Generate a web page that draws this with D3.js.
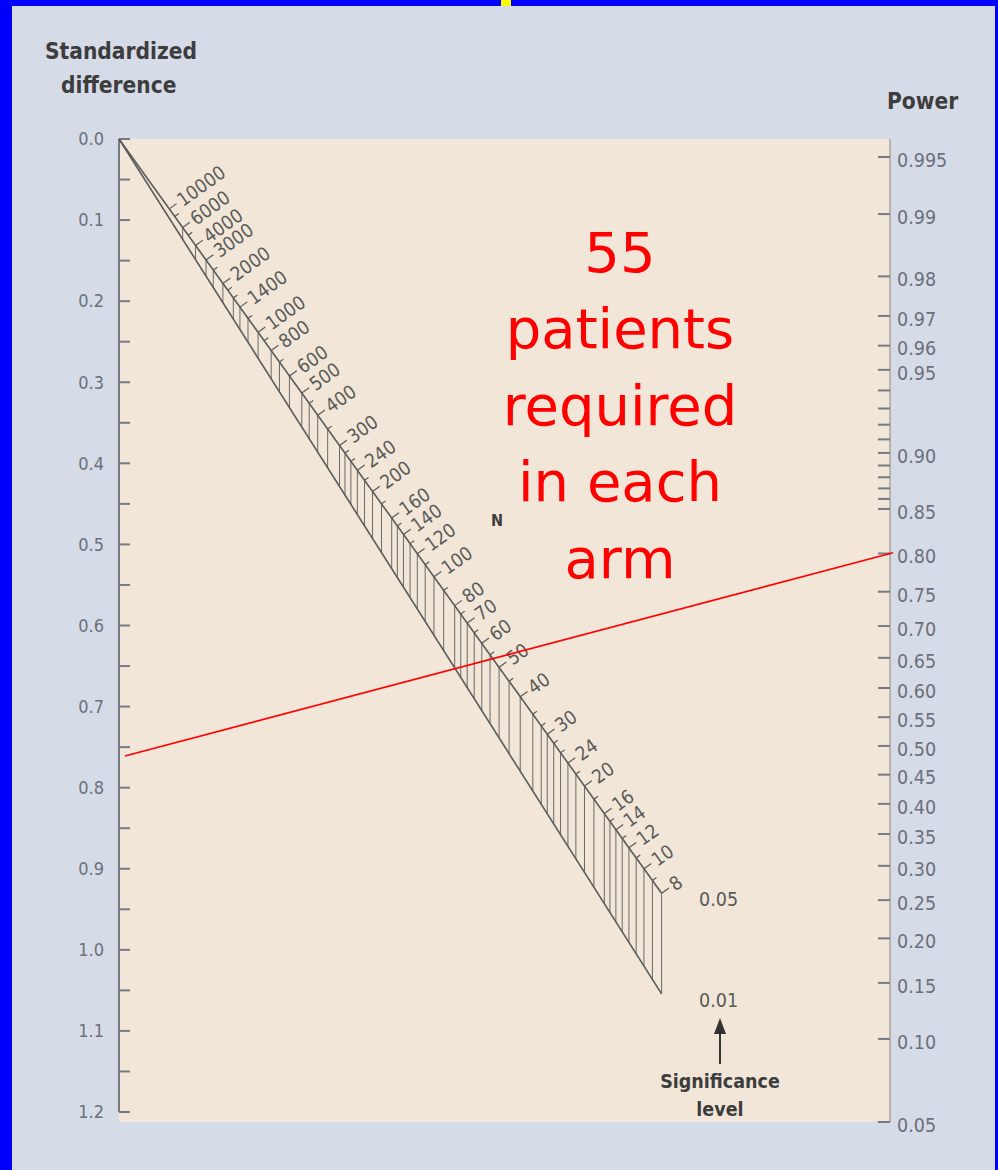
<!DOCTYPE html>
<html><head><meta charset="utf-8">
<script src="https://cdn.jsdelivr.net/npm/d3@7"></script>
<style>
html,body{margin:0;padding:0;background:#0000ff;}
svg{display:block;}
</style></head>
<body>
<svg id="chart" width="998" height="1170"></svg>
<script>
// ---------------- data ----------------
const diffTicks = [0.0,0.1,0.2,0.3,0.4,0.5,0.6,0.7,0.8,0.9,1.0,1.1,1.2];
const diffMinor = [0.05,0.15,0.25,0.35,0.45,0.55,0.65,0.75,0.85,0.95,1.05,1.15];
const powerTicks = [0.995,0.99,0.98,0.97,0.96,0.95,0.90,0.85,0.80,0.75,0.70,0.65,0.60,0.55,0.50,0.45,0.40,0.35,0.30,0.25,0.20,0.15,0.10,0.05];
const powerLabels = ["0.995","0.99","0.98","0.97","0.96","0.95","0.90","0.85","0.80","0.75","0.70","0.65","0.60","0.55","0.50","0.45","0.40","0.35","0.30","0.25","0.20","0.15","0.10","0.05"];
const powerMinor = [0.94,0.93,0.92,0.91,0.89,0.88,0.87,0.86];
const nLabels = [10000,6000,4000,3000,2000,1400,1000,800,600,500,400,300,240,200,160,140,120,100,80,70,60,50,40,30,24,20,16,14,12,10,8];
const nMinor = [8000,5000,2500,1800,1600,1200,900,700,450,350,280,260,220,180,150,130,110,90,75,65,55,45,35,32,28,26,22,18,15,13,11,9];
const nHatch = [8,9,10,11,12,13,14,15,16,18,20,22,24,26,28,30,32,35,40,45,50,55,60,65,70,75,80,90,100,110,120,130,140,150,160,180,200,220,240,260,280,300,350,400,450,500,600,700,800,1000,1200,1400,1600,2000,2500,3000,4000,6000];
const alphaLevels = [0.05, 0.01];
const alphaLabels = ["0.05","0.01"];
const redLine = {diff: 0.763, power: 0.80};
const annotation = ["55","patients","required","in each","arm"];

// ---------------- helpers ----------------
function probit(p){ // Acklam inverse normal
  const a=[-3.969683028665376e+01,2.209460984245205e+02,-2.759285104469687e+02,1.383577518672690e+02,-3.066479806614716e+01,2.506628277459239e+00];
  const b=[-5.447609879822406e+01,1.615858368580409e+02,-1.556989798598866e+02,6.680131188771972e+01,-1.328068155288572e+01];
  const c=[-7.784894002430293e-03,-3.223964580411365e-01,-2.400758277161838e+00,-2.549732539343734e+00,4.374664141464968e+00,2.938163982698783e+00];
  const d=[7.784695709041462e-03,3.224671290700398e-01,2.445134137142996e+00,3.754408661907416e+00];
  const pl=0.02425, ph=1-pl; let q,r;
  if(p<pl){q=Math.sqrt(-2*Math.log(p));return (((((c[0]*q+c[1])*q+c[2])*q+c[3])*q+c[4])*q+c[5])/((((d[0]*q+d[1])*q+d[2])*q+d[3])*q+1);}
  if(p>ph){q=Math.sqrt(-2*Math.log(1-p));return -(((((c[0]*q+c[1])*q+c[2])*q+c[3])*q+c[4])*q+c[5])/((((d[0]*q+d[1])*q+d[2])*q+d[3])*q+1);}
  q=p-0.5;r=q*q;return (((((a[0]*r+a[1])*r+a[2])*r+a[3])*r+a[4])*r+a[5])*q/(((((b[0]*r+b[1])*r+b[2])*r+b[3])*r+b[4])*r+1);
}

const svg = d3.select("#chart");
const FONT = "'DejaVu Sans Condensed','DejaVu Sans',sans-serif";
const AX = "#777a84";

// background panel
svg.append("rect").attr("x",12).attr("y",6).attr("width",983).attr("height",1164).attr("fill","#d6dbe8");
svg.append("rect").attr("x",501).attr("y",0).attr("width",10).attr("height",6).attr("fill","#ffff00");

// scales
const xL = 119, xR = 890;
const yDiff = d3.scaleLinear().domain([0,1.2]).range([139,1112]);
const zScale = d3.scaleLinear().domain([probit(0.995), probit(0.05)]).range([157,1122]);
const yPow = p => zScale(probit(p));
const xT = d3.scaleLinear().domain([0,1]).range([xL,xR-12]);

// plot area
svg.append("rect").attr("x",xL).attr("y",139).attr("width",xR-xL).attr("height",1122-139).attr("fill","#f1e6d7");

// left axis
const gl = svg.append("g");
gl.append("line").attr("x1",xL).attr("x2",xL).attr("y1",yDiff(0)).attr("y2",yDiff(1.2)).attr("stroke",AX).attr("stroke-width",2);
gl.selectAll("line.t").data(diffTicks.concat(diffMinor)).join("line").attr("class","t")
  .attr("x1",xL).attr("x2",xL+11).attr("y1",d=>yDiff(d)).attr("y2",d=>yDiff(d)).attr("stroke",AX).attr("stroke-width",2);
gl.selectAll("text").data(diffTicks).join("text")
  .attr("x",104).attr("y",d=>yDiff(d)).attr("dy","0.35em").attr("text-anchor","end")
  .attr("font-family",FONT).attr("font-size",18).attr("fill","#6c707a").text(d=>d.toFixed(1));

// right axis
const gr = svg.append("g");
gr.append("line").attr("x1",xR).attr("x2",xR).attr("y1",139).attr("y2",1122).attr("stroke","#a9a49c").attr("stroke-width",1.5);
gr.selectAll("line.t").data(powerTicks.concat(powerMinor)).join("line").attr("class","t")
  .attr("x1",xR-12).attr("x2",xR).attr("y1",d=>yPow(d)).attr("y2",d=>yPow(d)).attr("stroke",AX).attr("stroke-width",2);
gr.selectAll("text").data(powerTicks).join("text")
  .attr("x",897).attr("y",d=>yPow(d)+3).attr("dy","0.35em")
  .attr("font-family",FONT).attr("font-size",19.5).attr("fill","#6c707a").text((d,i)=>powerLabels[i]);

// axis titles
const tt = svg.append("g").attr("font-family",FONT).attr("font-weight","bold").attr("font-size",22.5).attr("fill","#3d3d3d");
tt.append("text").attr("x",45).attr("y",59).text("Standardized");
tt.append("text").attr("x",61).attr("y",93).text("difference");
tt.append("text").attr("x",887).attr("y",109).text("Power");

// nomogram geometry
const kL = yDiff(1)-yDiff(0);
const kR = zScale(0)-zScale(1);
const tOf = n => kL/(kL + kR*Math.sqrt(n)/2);
const yOn = (t,alpha) => (1-t)*yDiff(0) + t*zScale(-probit(1-alpha/2));
const nMinVal = d3.min(nLabels);
const tEnd = tOf(nMinVal);

const gn = svg.append("g");
// hatch verticals
gn.selectAll("line.h").data(nHatch).join("line").attr("class","h")
  .attr("x1",d=>xT(tOf(d))).attr("x2",d=>xT(tOf(d)))
  .attr("y1",d=>yOn(tOf(d),alphaLevels[0])).attr("y2",d=>yOn(tOf(d),alphaLevels[1]))
  .attr("stroke","#6a6a6a").attr("stroke-width",1);
// the two significance lines
alphaLevels.forEach(a=>{
  gn.append("line").attr("x1",xT(0)).attr("y1",yOn(0,a)).attr("x2",xT(tEnd)).attr("y2",yOn(tEnd,a))
    .attr("stroke","#5a5a5a").attr("stroke-width",1.6);
});
// direction
const dx = xT(tEnd)-xT(0), dy = yOn(tEnd,0.05)-yOn(0,0.05);
const len = Math.hypot(dx,dy);
const px = dy/len, py = -dx/len; // perpendicular pointing up-right
const angle = Math.atan2(py,px)*180/Math.PI;
// ticks
gn.selectAll("line.mt").data(nMinor).join("line").attr("class","mt")
  .attr("x1",d=>xT(tOf(d))).attr("y1",d=>yOn(tOf(d),0.05))
  .attr("x2",d=>xT(tOf(d))+px*5).attr("y2",d=>yOn(tOf(d),0.05)+py*5)
  .attr("stroke","#5a5a5a").attr("stroke-width",1.2);
gn.selectAll("line.Mt").data(nLabels).join("line").attr("class","Mt")
  .attr("x1",d=>xT(tOf(d))).attr("y1",d=>yOn(tOf(d),0.05))
  .attr("x2",d=>xT(tOf(d))+px*9).attr("y2",d=>yOn(tOf(d),0.05)+py*9)
  .attr("stroke","#5a5a5a").attr("stroke-width",1.2);
gn.selectAll("text.nl").data(nLabels).join("text").attr("class","nl")
  .attr("transform",d=>{const x=xT(tOf(d))+px*12, y=yOn(tOf(d),0.05)+py*12; return `translate(${x},${y}) rotate(${angle})`;})
  .attr("dy","0.35em").attr("font-family",FONT).attr("font-size",19).attr("fill","#5a5a5a").text(d=>d);
gn.append("text").attr("x",497).attr("y",520).attr("dy","0.35em").attr("text-anchor","middle")
  .attr("font-family",FONT).attr("font-weight","bold").attr("font-size",16).attr("fill","#3d3d3d").text("N");

// significance labels
alphaLevels.forEach((a,i)=>{
  svg.append("text").attr("x",699).attr("y",yOn(tEnd,a)+6).attr("dy","0.35em")
    .attr("font-family",FONT).attr("font-size",19.5).attr("fill","#5a5a5a").text(alphaLabels[i]);
});
// arrow
const ax = 720;
svg.append("line").attr("x1",ax).attr("x2",ax).attr("y1",1064).attr("y2",1030).attr("stroke","#333").attr("stroke-width",2);
svg.append("path").attr("d",`M${ax},1018 L${ax-6},1034 L${ax+6},1034 Z`).attr("fill","#333");
svg.append("text").attr("x",ax).attr("y",1081).attr("dy","0.35em").attr("text-anchor","middle")
  .attr("font-family",FONT).attr("font-weight","bold").attr("font-size",19.5).attr("fill","#3d3d3d").text("Significance");
svg.append("text").attr("x",ax).attr("y",1109).attr("dy","0.35em").attr("text-anchor","middle")
  .attr("font-family",FONT).attr("font-weight","bold").attr("font-size",19.5).attr("fill","#3d3d3d").text("level");

// red line
const yA = yDiff(redLine.diff), yB = yPow(redLine.power);
const redY = x => yA + (yB-yA)*(x-xL)/(xR-xL);
svg.append("line").attr("x1",125).attr("y1",redY(125)).attr("x2",893).attr("y2",redY(893))
  .attr("stroke","#ff0000").attr("stroke-width",1.6);

// annotation
svg.append("g").selectAll("text").data(annotation).join("text")
  .attr("x",620).attr("y",(d,i)=>252+i*76.5).attr("dy","0.35em").attr("text-anchor","middle")
  .attr("font-family","'DejaVu Sans',sans-serif").attr("font-size",56).attr("fill","#ff0000").text(d=>d);
</script>
</body></html>
